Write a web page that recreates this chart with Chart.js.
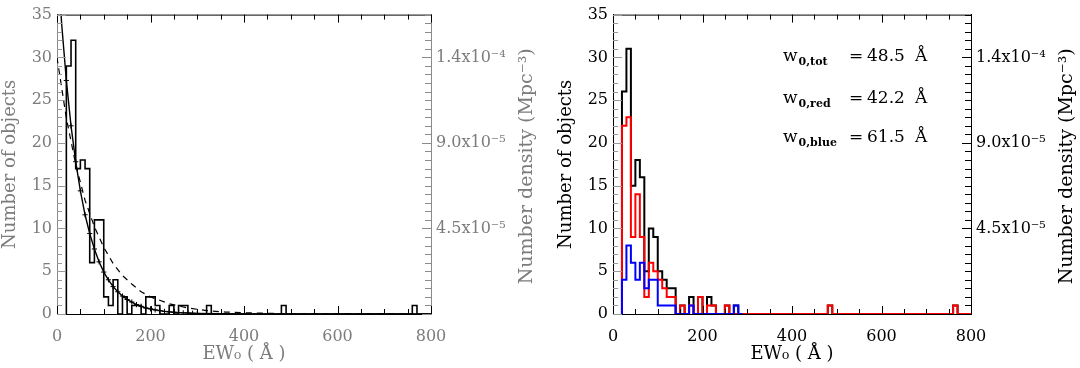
<!DOCTYPE html>
<html>
<head>
<meta charset="utf-8">
<title>EW0 distribution</title>
<script src="https://cdn.jsdelivr.net/npm/chart.js@4.4.1/dist/chart.umd.min.js"></script>
<style>
  html, body { margin: 0; padding: 0; background: #fff; }
  #wrap { position: relative; width: 1080px; height: 368px; overflow: hidden; }
  canvas { position: absolute; top: 0; }
  #left { left: -16px; }
  #right { left: 540px; }
</style>
</head>
<body>
<div id="wrap">
  <canvas id="left" width="556" height="368"></canvas>
  <canvas id="right" width="540" height="368"></canvas>
</div>
<script>
// histogram bins: 10 A wide, left edges from 20 A up to 790 A
const binStart = 20;
const binWidth = 10;

// left panel, all objects
const allCounts = [
  29, 32, 17, 18, 17, 6, 11, 11, 2, 1,
  4, 0, 2, 0, 1, 1, 0, 2, 2, 1,
  0, 0, 1, 0, 1, 1, 0, 0, 0, 0,
  1, 0, 0, 0, 0, 0, 0, 0, 0, 0,
  0, 0, 0, 0, 0, 0, 1, 0, 0, 0,
  0, 0, 0, 0, 0, 0, 0, 0, 0, 0,
  0, 0, 0, 0, 0, 0, 0, 0, 0, 0,
  0, 0, 0, 0, 1, 0, 0, 0
];

// right panel: total, red and blue samples
const totCounts = [
  26, 31, 15, 18, 16, 5, 10, 9, 5, 4,
  3, 3, 0, 1, 0, 2, 0, 2, 0, 2,
  1, 0, 0, 1, 0, 1, 0, 0, 0, 0,
  0, 0, 0, 0, 0, 0, 0, 0, 0, 0,
  0, 0, 0, 0, 0, 0, 1, 0, 0, 0,
  0, 0, 0, 0, 0, 0, 0, 0, 0, 0,
  0, 0, 0, 0, 0, 0, 0, 0, 0, 0,
  0, 0, 0, 0, 1, 0, 0, 0
];
const redCounts = [
  22, 23, 9, 14, 9, 2, 6, 5, 4, 3,
  2, 2, 0, 1, 0, 1, 0, 2, 0, 1,
  1, 0, 0, 1, 0, 0, 0, 0, 0, 0,
  0, 0, 0, 0, 0, 0, 0, 0, 0, 0,
  0, 0, 0, 0, 0, 0, 1, 0, 0, 0,
  0, 0, 0, 0, 0, 0, 0, 0, 0, 0,
  0, 0, 0, 0, 0, 0, 0, 0, 0, 0,
  0, 0, 0, 0, 1, 0, 0, 0
];
const blueCounts = [
  4, 8, 6, 4, 6, 3, 4, 4, 1, 1,
  1, 1, 0, 0, 0, 1, 0, 0, 0, 0,
  0, 0, 0, 0, 0, 1, 0
];

// exponential fit (solid, with crosses) and the dashed comparison curve
const fitEW = [0, 10, 20, 30, 40, 50, 60, 70, 80, 90, 100, 110, 120, 130, 140, 150, 160, 170, 180, 190,
  200, 210, 220, 230, 240, 250, 260, 270, 280, 290, 300, 350, 400, 500, 800];
const fitN = [42, 33.9, 27.3, 22.0, 17.8, 14.4, 11.6, 9.4, 7.6, 6.1, 4.9, 4.0, 3.2, 2.6, 2.1, 1.7, 1.4, 1.1, 0.9, 0.7,
  0.6, 0.48, 0.39, 0.31, 0.25, 0.2, 0.16, 0.13, 0.11, 0.09, 0.07, 0.03, 0.01, 0, 0];
const dashEW = [0, 20, 40, 60, 80, 100, 120, 140, 160, 180, 200, 240, 280, 320, 360, 400, 500, 600, 800];
const dashN = [30, 22.9, 17.5, 13.3, 10.2, 7.8, 5.9, 4.5, 3.5, 2.6, 2.0, 1.2, 0.7, 0.4, 0.23, 0.14, 0.03, 0.01, 0];

// right-hand axis: number density per object, labelled ticks
const densityPerObject = 4.5e-6;
const densityTicks = [4.5e-5, 9.0e-5, 1.35e-4];
const densityLabels = ['4.5x10⁻⁵', '9.0x10⁻⁵', '1.4x10⁻⁴'];

// fitted scale lengths
const w0Names = ['tot', 'red', 'blue'];
const w0Values = ['48.5', '42.2', '61.5'];

const FONT = "'DejaVu Serif', serif";

function histPoints(counts) {
  const pts = [{x: binStart, y: 0}];
  counts.forEach((c, i) => pts.push({x: binStart + i * binWidth, y: c}));
  pts.push({x: binStart + counts.length * binWidth, y: 0});
  return pts;
}

function densityLabel(v) {
  for (let k = 0; k < densityTicks.length; k++) {
    if (Math.abs(v - densityTicks[k]) < 1e-9) return densityLabels[k];
  }
  return '';
}

// IDL style ticks pointing into the plot, plus the top frame line
const inwardTicks = {
  id: 'inwardTicks',
  afterDraw(chart, args, o) {
    const {ctx, chartArea: a, scales} = chart;
    const seg = (x1, y1, x2, y2) => { ctx.beginPath(); ctx.moveTo(x1, y1); ctx.lineTo(x2, y2); ctx.stroke(); };
    ctx.save();
    ctx.lineWidth = 1;
    ctx.strokeStyle = o.frame;
    seg(a.left, a.top + 0.5, a.right, a.top + 0.5);
    ctx.strokeStyle = o.xColor;
    scales.x.ticks.forEach(t => {
      const p = Math.round(scales.x.getPixelForValue(t.value)) + 0.5;
      const len = t.value % 200 === 0 ? 8 : 5;
      seg(p, a.bottom, p, a.bottom - len);
      seg(p, a.top, p, a.top + len);
    });
    ctx.strokeStyle = o.yColor;
    scales.y.ticks.forEach(t => {
      const p = Math.round(scales.y.getPixelForValue(t.value)) + 0.5;
      const len = t.value % 5 === 0 ? 9 : 5;
      seg(a.left, p, a.left + len, p);
    });
    ctx.strokeStyle = o.y2Color;
    scales.y2.ticks.forEach((t, i) => {
      const p = Math.round(scales.y2.getPixelForValue(t.value)) + 0.5;
      const len = i % 10 === 0 ? 9 : 6;
      seg(a.right, p, a.right - len, p);
    });
    ctx.restore();
  }
};

// right axis title reads bottom to top, so draw it by hand
const rightTitle = {
  id: 'rightTitle',
  afterDraw(chart, args, o) {
    const {ctx, chartArea: a} = chart;
    ctx.save();
    ctx.translate(a.right + 96, (a.top + a.bottom) / 2 + 2);
    ctx.rotate(-Math.PI / 2);
    ctx.font = '19px ' + FONT;
    ctx.fillStyle = o.color;
    ctx.textAlign = 'center';
    ctx.textBaseline = 'middle';
    ctx.fillText('Number density (Mpc⁻³)', 0, 0);
    ctx.restore();
  }
};

const w0Text = {
  id: 'w0Text',
  afterDraw(chart, args, o) {
    if (!o.show) return;
    const {ctx, scales} = chart;
    const rowsN = [30.2, 25.2, 20.7];
    const x0 = scales.x.getPixelForValue(380);
    ctx.save();
    ctx.fillStyle = '#000';
    ctx.textBaseline = 'alphabetic';
    w0Names.forEach((name, i) => {
      const y = scales.y.getPixelForValue(rowsN[i]) + 5;
      ctx.font = '17px ' + FONT;
      ctx.fillText('w', x0, y);
      let x = x0 + ctx.measureText('w').width + 1;
      ctx.font = 'bold 11px ' + FONT;
      ctx.fillText('0,' + name, x, y + 4);
      x += ctx.measureText('0,' + name).width;
      const eqX = Math.max(x0 + 66, x + 12);
      ctx.font = '17px ' + FONT;
      ctx.fillText('=', eqX, y);
      ctx.fillText(w0Values[i], eqX + 18, y);
      ctx.fillText('Å', eqX + 66, y);
    });
    ctx.restore();
  }
};

function makeChart(id, datasets, c) {
  const font = {family: FONT, size: 16};
  const titleFont = {family: FONT, size: 18};
  return new Chart(document.getElementById(id), {
    type: 'line',
    data: {datasets: datasets},
    options: {
      responsive: false,
      animation: false,
      devicePixelRatio: 1,
      layout: {padding: {top: 1, left: 0, right: 0, bottom: 0}},
      elements: {line: {tension: 0}},
      plugins: {
        legend: {display: false},
        tooltip: {enabled: false},
        inwardTicks: {frame: '#000', xColor: '#000', yColor: c.yTick, y2Color: c.y2Tick},
        rightTitle: {color: c.text},
        w0Text: {show: c.w0}
      },
      scales: {
        x: {
          type: 'linear', position: 'bottom', min: 0, max: 800,
          ticks: {stepSize: 50, autoSkip: false, maxRotation: 0, padding: 13, font: font, color: c.text,
            callback: v => (v % 200 === 0 ? String(v) : '')},
          grid: {drawOnChartArea: false, drawTicks: false},
          border: {display: true, color: '#000', width: 1},
          title: {display: true, text: 'EW₀ ( Å )', font: titleFont, color: c.text, padding: {top: 0, bottom: 3}},
          afterFit: s => { s.height = 54; }
        },
        y: {
          type: 'linear', position: 'left', min: 0, max: 35,
          ticks: {stepSize: 1, autoSkip: false, padding: 5, font: font, color: c.text,
            callback: v => (v % 5 === 0 ? String(v) : '')},
          grid: {drawOnChartArea: false, drawTicks: false},
          border: {display: true, color: c.yAxis, width: 1},
          title: {display: true, text: 'Number of objects', font: titleFont, color: c.text, padding: {top: 16, bottom: 0}},
          afterFit: s => { s.width = 73; }
        },
        y2: {
          type: 'linear', position: 'right', min: 0, max: 35 * densityPerObject,
          ticks: {stepSize: densityPerObject, autoSkip: false, padding: 5, font: font, color: c.text,
            callback: v => densityLabel(v)},
          grid: {drawOnChartArea: false, drawTicks: false},
          border: {display: true, color: c.yAxis, width: 1},
          afterFit: s => { s.width = 109; }
        }
      }
    },
    plugins: [inwardTicks, rightTitle, w0Text]
  });
}

const pts = (xs, ys) => xs.map((x, i) => ({x: x, y: ys[i]}));

makeChart('left', [
  {data: histPoints(allCounts), stepped: true, borderColor: '#000', borderWidth: 1.6, pointRadius: 0, fill: false},
  {data: pts(fitEW, fitN), borderColor: '#000', borderWidth: 1.4, fill: false,
    pointStyle: 'cross', pointBorderColor: '#000', pointBorderWidth: 1,
    pointRadius: ctx => (ctx.raw && ctx.raw.x >= 20 && ctx.raw.x <= 330 ? 2.6 : 0)},
  {data: pts(dashEW, dashN), borderColor: '#000', borderWidth: 1.2, borderDash: [6, 5], pointRadius: 0, fill: false}
], {text: '#7c7c7c', yAxis: '#8a8a8a', yTick: '#9a9a9a', y2Tick: '#8a8a8a', w0: false});

makeChart('right', [
  {data: histPoints(blueCounts), stepped: true, borderColor: '#0000ff', borderWidth: 2, pointRadius: 0, fill: false, order: 0},
  {data: histPoints(redCounts), stepped: true, borderColor: '#ff0000', borderWidth: 2, pointRadius: 0, fill: false, order: 1},
  {data: histPoints(totCounts), stepped: true, borderColor: '#000', borderWidth: 2, pointRadius: 0, fill: false, order: 2}
], {text: '#000', yAxis: '#000', yTick: '#999', y2Tick: '#000', w0: true});
</script>
</body>
</html>
